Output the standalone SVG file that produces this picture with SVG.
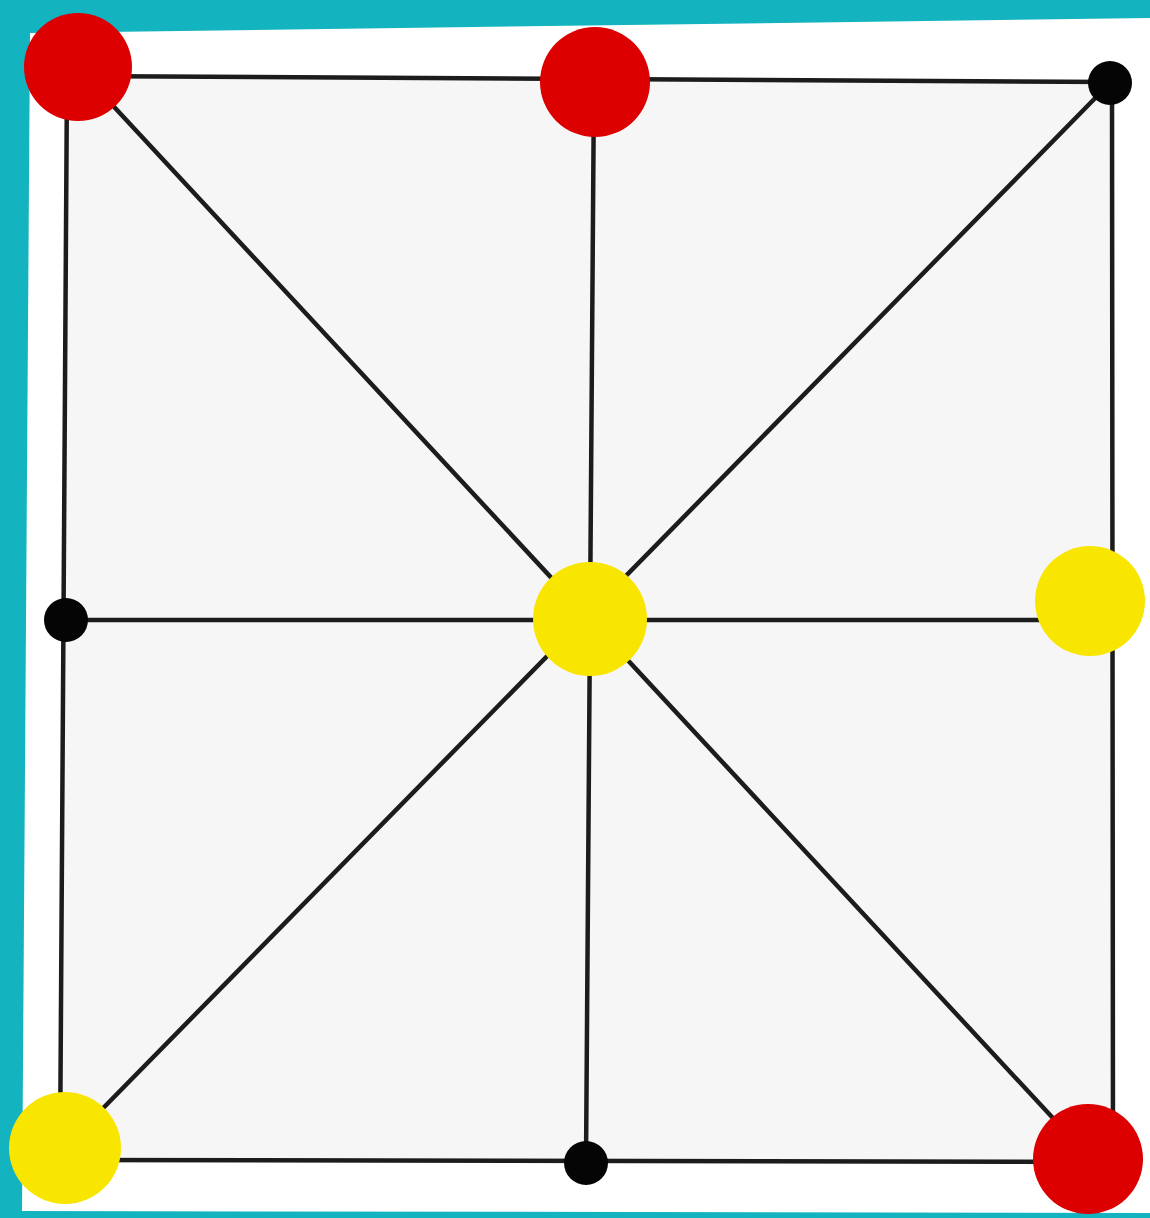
<svg xmlns="http://www.w3.org/2000/svg" width="1150" height="1218" viewBox="0 0 1150 1218">
<style>
.ln{stroke:#1c1c1c;stroke-width:4.5;stroke-linecap:round;fill:none}
.red{fill:#dc0000}
.yel{fill:#f8e600}
.blk{fill:#050505}
</style>
<rect x="0" y="0" width="1150" height="1218" fill="#14b3c0"/>
<polygon points="30,33 1150,18 1150,1213 22,1211" fill="#ffffff"/>
<polygon points="67,76 1112,82 1113,1162 60,1160" fill="#f6f6f6"/>
<g id="connectors">
<line class="ln" x1="67" y1="76" x2="1112" y2="82"/>
<line class="ln" x1="60" y1="1160" x2="1113" y2="1162"/>
<line class="ln" x1="67" y1="76" x2="60" y2="1160"/>
<line class="ln" x1="1112" y1="82" x2="1113" y2="1162"/>
<line class="ln" x1="594" y1="80" x2="586" y2="1162"/>
<line class="ln" x1="65" y1="620" x2="1112" y2="620"/>
<line class="ln" x1="78" y1="68" x2="1090" y2="1158"/>
<line class="ln" x1="1110" y1="83" x2="62" y2="1150"/>
</g>
<g id="n-top-left"><circle class="red" cx="78" cy="67" r="54"/></g>
<g id="n-top-mid"><circle class="red" cx="595" cy="82" r="55"/></g>
<g id="n-top-right"><circle class="blk" cx="1110" cy="83" r="22"/></g>
<g id="n-mid-left"><circle class="blk" cx="66" cy="620" r="22"/></g>
<g id="n-center"><circle class="yel" cx="590" cy="619" r="57"/></g>
<g id="n-mid-right"><circle class="yel" cx="1090" cy="601" r="55"/></g>
<g id="n-bot-left"><circle class="yel" cx="65" cy="1148" r="56"/></g>
<g id="n-bot-mid"><circle class="blk" cx="586" cy="1163" r="22"/></g>
<g id="n-bot-right"><circle class="red" cx="1088" cy="1159" r="55"/></g>
</svg>
